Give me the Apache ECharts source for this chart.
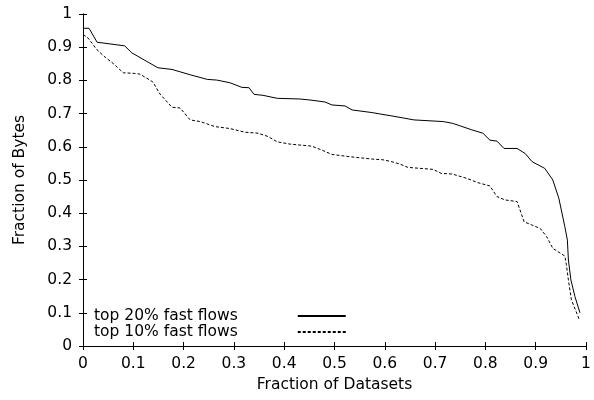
<!DOCTYPE html>
<html>
<head>
<meta charset="utf-8">
<script src="https://cdn.jsdelivr.net/npm/echarts@6/dist/echarts.min.js"></script>
<style>html,body{margin:0;padding:0;background:#fff}#c{width:594px;height:400px}</style>
</head>
<body>
<div id="c"></div>
<script>
var seriesNames = ['top 20% fast flows', 'top 10% fast flows'];
var top20X = [0, 0.012, 0.028, 0.083, 0.097, 0.149, 0.177, 0.213, 0.247, 0.266, 0.292, 0.316, 0.330, 0.340, 0.358, 0.386, 0.431, 0.451, 0.481, 0.495, 0.521, 0.535, 0.575, 0.590, 0.614, 0.658, 0.716, 0.734, 0.750, 0.773, 0.795, 0.809, 0.823, 0.837, 0.863, 0.879, 0.893, 0.918, 0.934, 0.946, 0.958, 0.963, 0.965, 0.970, 0.978, 0.988];
var top20Y = [0.957, 0.957, 0.915, 0.904, 0.883, 0.838, 0.833, 0.817, 0.803, 0.801, 0.793, 0.779, 0.778, 0.758, 0.755, 0.746, 0.744, 0.741, 0.735, 0.726, 0.723, 0.711, 0.703, 0.699, 0.693, 0.681, 0.676, 0.671, 0.663, 0.651, 0.641, 0.620, 0.617, 0.595, 0.595, 0.580, 0.555, 0.535, 0.500, 0.445, 0.359, 0.319, 0.259, 0.199, 0.149, 0.100];
var top10X = [0, 0.008, 0.014, 0.028, 0.044, 0.060, 0.080, 0.103, 0.113, 0.133, 0.139, 0.153, 0.177, 0.193, 0.213, 0.233, 0.262, 0.292, 0.322, 0.348, 0.368, 0.386, 0.412, 0.455, 0.475, 0.495, 0.531, 0.575, 0.596, 0.614, 0.630, 0.646, 0.696, 0.712, 0.734, 0.763, 0.785, 0.809, 0.823, 0.839, 0.863, 0.877, 0.893, 0.909, 0.922, 0.934, 0.958, 0.961, 0.965, 0.971, 0.986];
var top10Y = [0.937, 0.931, 0.920, 0.892, 0.870, 0.851, 0.823, 0.821, 0.819, 0.801, 0.795, 0.759, 0.719, 0.717, 0.681, 0.676, 0.661, 0.655, 0.644, 0.641, 0.631, 0.615, 0.608, 0.602, 0.590, 0.577, 0.570, 0.563, 0.561, 0.555, 0.548, 0.538, 0.532, 0.520, 0.518, 0.505, 0.492, 0.482, 0.450, 0.440, 0.435, 0.374, 0.364, 0.354, 0.329, 0.294, 0.271, 0.245, 0.199, 0.139, 0.082];
var xTicks = ['0', '0.1', '0.2', '0.3', '0.4', '0.5', '0.6', '0.7', '0.8', '0.9', '1'];
var yTicks = ['0', '0.1', '0.2', '0.3', '0.4', '0.5', '0.6', '0.7', '0.8', '0.9', '1'];

function pairs(xs, ys) { return xs.map(function (x, i) { return [x, ys[i]]; }); }

var FONT = 'DejaVu Sans';
var FS = 15.5;
var lineCol = '#000';

function baseAxis(extra) {
  var a = {
    type: 'value', min: 0, max: 1, interval: 0.1,
    axisLine: { show: true, lineStyle: { color: lineCol, width: 1 } },
    axisTick: { show: true, inside: true, length: 4, lineStyle: { color: lineCol, width: 1 } },
    splitLine: { show: false },
    axisLabel: { show: false }
  };
  for (var k in extra) a[k] = extra[k];
  return a;
}

var chart = echarts.init(document.getElementById('c'), null, { renderer: 'canvas' });
chart.setOption({
  animation: false,
  backgroundColor: '#fff',
  textStyle: { fontFamily: FONT },
  grid: { left: 83, right: 8, top: 14, bottom: 54, containLabel: false },
  xAxis: [
    baseAxis({
      position: 'bottom',
      name: 'Fraction of Datasets', nameLocation: 'middle', nameGap: 29,
      nameTextStyle: { fontFamily: FONT, fontSize: FS, color: '#000' },
      axisLabel: { show: true, margin: 10, fontFamily: FONT, fontSize: FS, color: '#000',
        formatter: function (v) { return xTicks[Math.round(v * 10)]; } }
    }),
    baseAxis({ position: 'top' })
  ],
  yAxis: [
    baseAxis({
      position: 'left',
      name: 'Fraction of Bytes', nameLocation: 'middle', nameGap: 55,
      nameTextStyle: { fontFamily: FONT, fontSize: FS, color: '#000' },
      axisLabel: { show: true, margin: 11, fontFamily: FONT, fontSize: FS, color: '#000',
        formatter: function (v) { return yTicks[Math.round(v * 10)]; } }
    }),
    baseAxis({ position: 'right' })
  ],
  legend: {
    orient: 'vertical',
    left: 94, top: 308,
    padding: 0,
    itemGap: 0,
    itemWidth: 48,
    itemHeight: 10,
    align: 'right',
    selectedMode: false,
    itemStyle: { opacity: 0 },
    textStyle: { fontFamily: FONT, fontSize: FS, color: '#000', lineHeight: 16, padding: [0, 55, 0, 0] },
    data: seriesNames
  },
  series: [
    {
      name: seriesNames[0], type: 'line', xAxisIndex: 0, yAxisIndex: 0,
      data: pairs(top20X, top20Y), symbol: 'none', showSymbol: false,
      lineStyle: { color: lineCol, width: 1, type: 'solid' },
      itemStyle: { color: lineCol }
    },
    {
      name: seriesNames[1], type: 'line', xAxisIndex: 0, yAxisIndex: 0,
      data: pairs(top10X, top10Y), symbol: 'none', showSymbol: false,
      lineStyle: { color: lineCol, width: 1, type: [3, 2] },
      itemStyle: { color: lineCol }
    }
  ]
});
</script>
</body>
</html>
